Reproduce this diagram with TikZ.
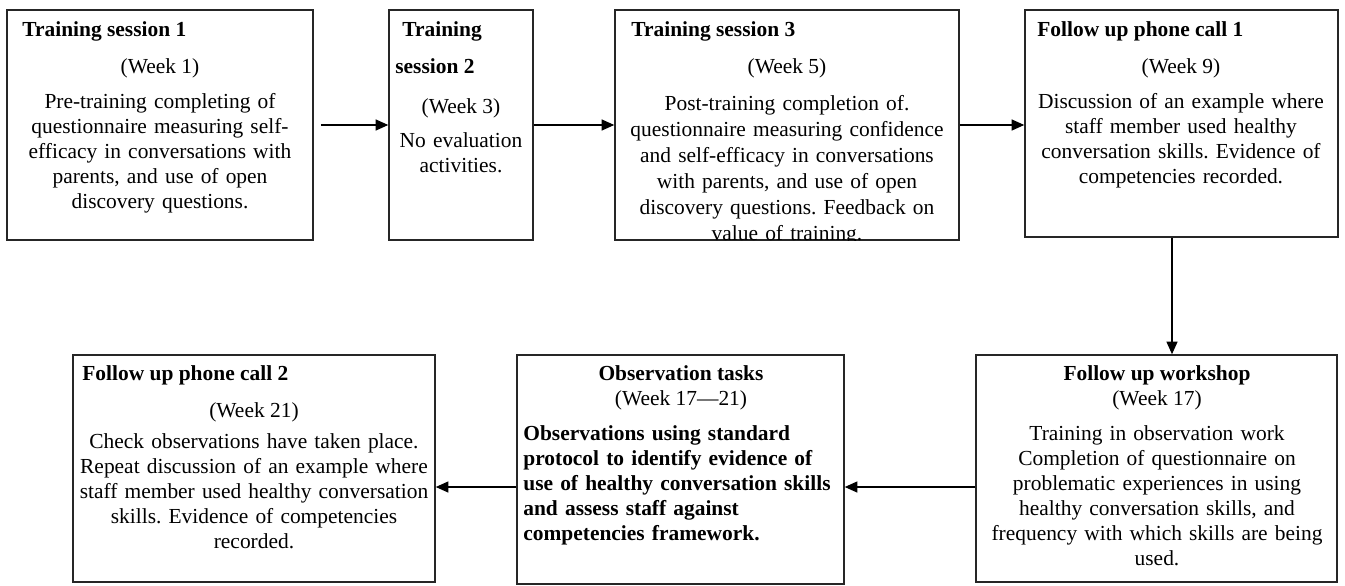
\documentclass[tikz,border=0pt]{standalone}
\usepackage{fontspec}
\setmainfont{Liberation Serif}
\usetikzlibrary{arrows.meta,calc,fit}
\frenchspacing
\def\txt{\fontsize{12.2}{14.23}\selectfont}
\tikzset{
	box/.style={draw=black!85, line width=0.9pt, inner sep=0},
	head/.style={font=\txt\bfseries, inner sep=0, anchor=base west},
	week/.style={font=\txt, inner sep=0, anchor=base},
	body/.style={font=\txt, inner sep=0, anchor=base, align=center, text width=8cm},
	arr/.style={-{Triangle[length=2.5mm,width=2.2mm]}, line width=0.6pt},
}

\begin{document}
\begin{tikzpicture}[x=0.02cm, y=-0.02cm]
		\useasboundingbox (0,0) rectangle (1345,585);
		
		%%%%% TOP ROW %%%%%
		
		\node[box, fit={(7,10) (313,240)}] (s1) {};
		\node[head] (h1) at (22,36) {Training session 1};
		\node[week] (w1) at (160,73) {(Week 1)};
		\node[body] (b1) at (160,108) {Pre-training completing of\\questionnaire measuring self-\\efficacy in conversations with\\parents, and use of open\\discovery questions.};
		
		\node[box, fit={(389,10) (533,240)}] (s2) {};
		\node[head] (h2) at (402,36) {Training};
		\node[head] (h2b) at (395,73) {session 2};
		\node[week] (w2) at (461,113) {(Week 3)};
		\node[body] (b2) at (461,147) {No evaluation\\activities.};
		
		\node[box, fit={(615,10) (959,240)}] (s3) {};
		\node[head] (h3) at (631,36) {Training session 3};
		\node[week] (w3) at (787,73) {(Week 5)};
		\begin{scope}
			\clip (s3.north west) rectangle (s3.south east);
			\node[body, font=\fontsize{12.2}{14.8}\selectfont] (b3) at (787,110) {Post-training completion of.\\questionnaire measuring confidence\\and self-efficacy in conversations\\with parents, and use of open\\discovery questions. Feedback on\\value of training.};
		\end{scope}
		
		\node[box, fit={(1025,10) (1338,237)}] (s4) {};
		\node[head] (h4) at (1037,36) {Follow up phone call 1};
		\node[week] (w4) at (1181,73) {(Week 9)};
		\node[body] (b4) at (1181,108) {Discussion of an example where\\staff member used healthy\\conversation skills. Evidence of\\competencies recorded.};
		
		\draw[arr] ($(s1.east)+(7,0)$) -- (s2.west);
		\draw[arr] (s2.east) -- (s3.west);
		\draw[arr] (s3.east) -- (s3.east -| s4.west);
		
		%%%%% BOTTOM ROW %%%%%
		
		\node[box, fit={(976,355) (1337,582)}] (s5) {};
		\node[head, anchor=base] (h5) at (1157,380) {Follow up workshop};
		\node[week] (w5) at (1157,405) {(Week 17)};
		\node[body] (b5) at (1157,440) {Training in observation work\\Completion of questionnaire on\\problematic experiences in using\\healthy conversation skills, and\\frequency with which skills are being\\used.};
		
		\node[box, fit={(517,355) (844,584)}] (s6) {};
		\node[head, anchor=base] (h6) at (681,380) {Observation tasks};
		\node[week] (w6) at (681,405) {(Week 17---21)};
		\node[body, font=\txt\bfseries, anchor=base west, align=left] (b6) at (523,440) {Observations using standard\\protocol to identify evidence of\\use of healthy conversation skills\\and assess staff against\\competencies framework.};
		
		\node[box, fit={(73,355) (435,582)}] (s7) {};
		\node[head] (h7) at (82,380) {Follow up phone call 2};
		\node[week] (w7) at (254,417) {(Week 21)};
		\node[body] (b7) at (254,448) {Check observations have taken place.\\Repeat discussion of an example where\\staff member used healthy conversation\\skills. Evidence of competencies\\recorded.};
		
		\coordinate (dn) at (1172,0);
		\coordinate (lo) at (0,487);
		\draw[arr] (s4.south -| dn) -- (s5.north -| dn);
		\draw[arr] (s5.west |- lo) -- (s6.east |- lo);
		\draw[arr] (s6.west |- lo) -- (s7.east |- lo);
		
	\end{tikzpicture}
\end{document}
